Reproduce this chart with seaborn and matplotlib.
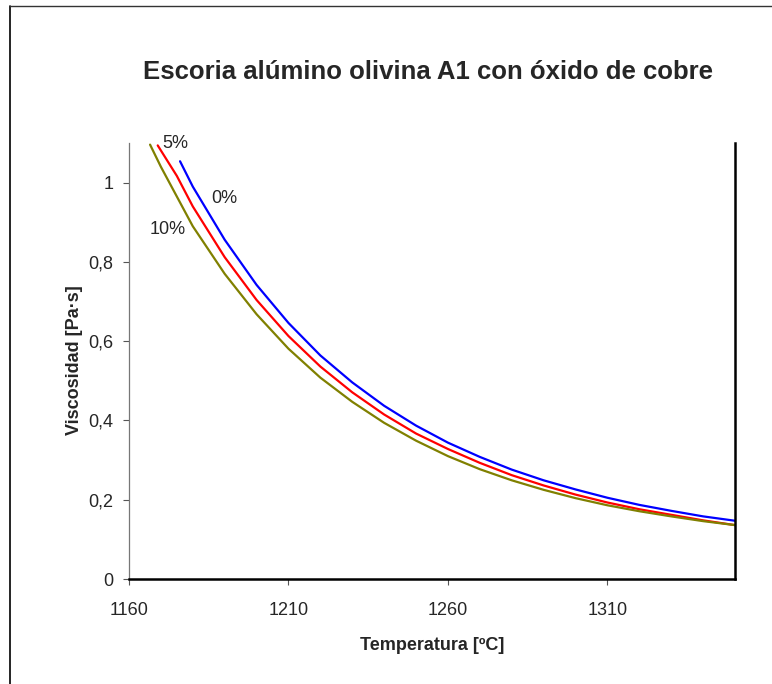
import matplotlib
matplotlib.use("Agg")
import matplotlib.pyplot as plt
from matplotlib.lines import Line2D
from matplotlib.ticker import FuncFormatter
import seaborn as sns

# datos: temperatura [ºC] y viscosidad [Pa·s]
temp_0 = [1176, 1180, 1190, 1200, 1210, 1220, 1230, 1240, 1250, 1260,
          1270, 1280, 1290, 1300, 1310, 1320, 1330, 1340, 1350]
visc_0 = [1.054, 0.990, 0.856, 0.742, 0.646, 0.564, 0.496, 0.437, 0.387, 0.344,
          0.308, 0.276, 0.249, 0.226, 0.205, 0.187, 0.172, 0.158, 0.147]

temp_5 = [1169, 1175, 1180, 1190, 1200, 1210, 1220, 1230, 1240, 1250, 1260,
          1270, 1280, 1290, 1300, 1310, 1320, 1330, 1340, 1350]
visc_5 = [1.094, 1.017, 0.940, 0.812, 0.704, 0.613, 0.536, 0.471, 0.415, 0.367, 0.328,
          0.293, 0.262, 0.236, 0.213, 0.193, 0.176, 0.162, 0.148, 0.136]

temp_10 = [1166.6, 1170, 1180, 1190, 1200, 1210, 1220, 1230, 1240, 1250, 1260,
           1270, 1280, 1290, 1300, 1310, 1320, 1330, 1340, 1350]
visc_10 = [1.096, 1.040, 0.890, 0.770, 0.668, 0.581, 0.508, 0.447, 0.394, 0.349, 0.310,
           0.277, 0.249, 0.225, 0.204, 0.186, 0.171, 0.158, 0.146, 0.136]

x_ticks = [1160, 1210, 1260, 1310]
y_ticks = [0, 0.2, 0.4, 0.6, 0.8, 1.0]

sns.set_style("white")
plt.rcParams['font.family'] = ['Liberation Sans', 'DejaVu Sans']

fig = plt.figure(figsize=(7.72, 6.84), dpi=100)
ax = fig.add_axes([0.1671, 0.1535, 0.785, 0.6374])

sns.lineplot(x=temp_0, y=visc_0, color='#0000FF', linewidth=1.6, ax=ax)
sns.lineplot(x=temp_5, y=visc_5, color='#FF0000', linewidth=1.6, ax=ax)
sns.lineplot(x=temp_10, y=visc_10, color='#808000', linewidth=1.6, ax=ax)

ax.set_xlim(1160, 1350)
ax.set_ylim(0, 1.1)
ax.set_xticks(x_ticks)
ax.set_yticks(y_ticks)
ax.yaxis.set_major_formatter(FuncFormatter(lambda v, p: f"{v:g}".replace('.', ',')))
ax.tick_params(axis='both', labelsize=13, direction='out', length=4.5,
               width=0.8, color='#555555', left=True, bottom=True)
ax.tick_params(axis='y', pad=6.5)
ax.tick_params(axis='x', pad=12)

ax.spines['top'].set_visible(False)
ax.spines['left'].set_color('#777777')
ax.spines['left'].set_linewidth(0.9)
ax.spines['bottom'].set_color('black')
ax.spines['bottom'].set_linewidth(1.8)
ax.spines['right'].set_color('black')
ax.spines['right'].set_linewidth(1.8)

# etiquetas de las curvas
ax.text(1174.4, 1.098, '5%', fontsize=13, ha='center', va='center')
ax.text(1190, 0.96, '0%', fontsize=13, ha='center', va='center')
ax.text(1172.2, 0.882, '10%', fontsize=13, ha='center', va='center')

fig.text(0.554, 0.895, 'Escoria alúmino olivina A1 con óxido de cobre',
         fontsize=18.5, fontweight='bold', ha='center', va='center')
fig.text(0.56, 0.056, 'Temperatura [ºC]', fontsize=13, fontweight='bold',
         ha='center', va='center')
fig.text(0.097, 0.474, 'Viscosidad [Pa·s]', fontsize=13, fontweight='bold',
         ha='center', va='center', rotation=90)

# borde del area del grafico
fig.add_artist(Line2D([10/772, 10/772], [0, 1 - 6/684], color='black', linewidth=1.2))
fig.add_artist(Line2D([10/772, 1], [1 - 6/684, 1 - 6/684], color='#333333', linewidth=1.0))

fig.savefig('out.png', dpi=100)
